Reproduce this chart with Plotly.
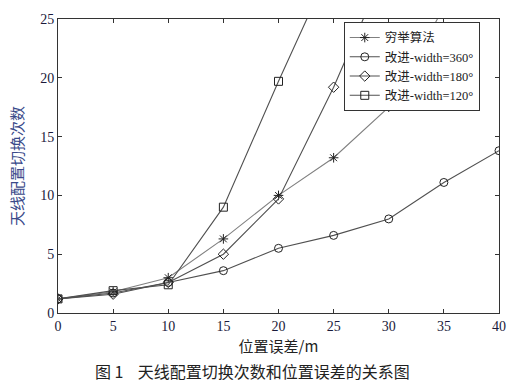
import plotly.graph_objects as go

x_err = [0, 5, 10, 15, 20, 25, 30, 35, 40]
exhaustive = [1.2, 1.8, 3.0, 6.3, 10.0, 13.2, 17.5, 26.0]
w360 = [1.2, 1.7, 2.6, 3.6, 5.5, 6.6, 8.0, 11.1, 13.8]
w180 = [1.2, 1.6, 2.6, 5.0, 9.7, 19.2, 30.0]
w120 = [1.2, 1.9, 2.4, 9.0, 19.7, 30.0]

names = ["穷举算法", "改进-width=360°", "改进-width=180°", "改进-width=120°"]
series = [exhaustive, w360, w180, w120]
symbols = ["asterisk-open", "circle-open", "diamond-open", "square-open"]
line_colors = ["#808080", "#505050", "#505050", "#505050"]

fig = go.Figure()
for nm, ys, sym, lc in zip(names, series, symbols, line_colors):
    fig.add_trace(go.Scatter(
        x=x_err[:len(ys)], y=ys, name=nm, mode="lines+markers",
        line=dict(color=lc, width=1.1),
        marker=dict(symbol=sym, size=8, color="#222222", line=dict(color="#222222", width=1)),
        cliponaxis=True,
    ))

tickfont = dict(family="Liberation Serif, Times New Roman, serif", size=14, color="#1a1a3a")
fig.update_layout(
    width=520, height=390,
    margin=dict(l=58, r=21, t=14, b=77),
    paper_bgcolor="white", plot_bgcolor="white",
    showlegend=True,
    legend=dict(
        x=0.648, y=0.99, xanchor="left", yanchor="top",
        bgcolor="white", bordercolor="#333333", borderwidth=1,
        font=dict(family="Liberation Serif, Noto Sans CJK SC, serif", size=12.5, color="#222222"),
        tracegroupgap=0, itemwidth=30,
    ),
    xaxis=dict(
        range=[0, 40], tickvals=[0, 5, 10, 15, 20, 25, 30, 35, 40],
        showgrid=False, zeroline=False, showline=True, linecolor="#333333", linewidth=1,
        mirror="ticks", ticks="inside", ticklen=4, tickcolor="#333333",
        tickfont=tickfont,
        title=dict(text="位置误差/m", font=dict(family="Noto Sans CJK SC, serif", size=15, color="#222222"), standoff=8),
    ),
    yaxis=dict(
        range=[0, 25], tickvals=[0, 5, 10, 15, 20, 25],
        showgrid=False, zeroline=False, showline=True, linecolor="#333333", linewidth=1,
        mirror="ticks", ticks="inside", ticklen=4, tickcolor="#333333",
        tickfont=tickfont,
        title=dict(text="天线配置切换次数", font=dict(family="Noto Sans CJK SC, serif", size=15, color="#3a4a8a"), standoff=12),
    ),
)
fig.add_annotation(
    text="图 1    天线配置切换次数和位置误差的关系图",
    xref="paper", yref="paper", x=0.44, y=-0.197, xanchor="center", yanchor="middle",
    showarrow=False, font=dict(family="Noto Sans CJK SC, serif", size=16, color="#222222"),
)
fig.write_html("out.html")
